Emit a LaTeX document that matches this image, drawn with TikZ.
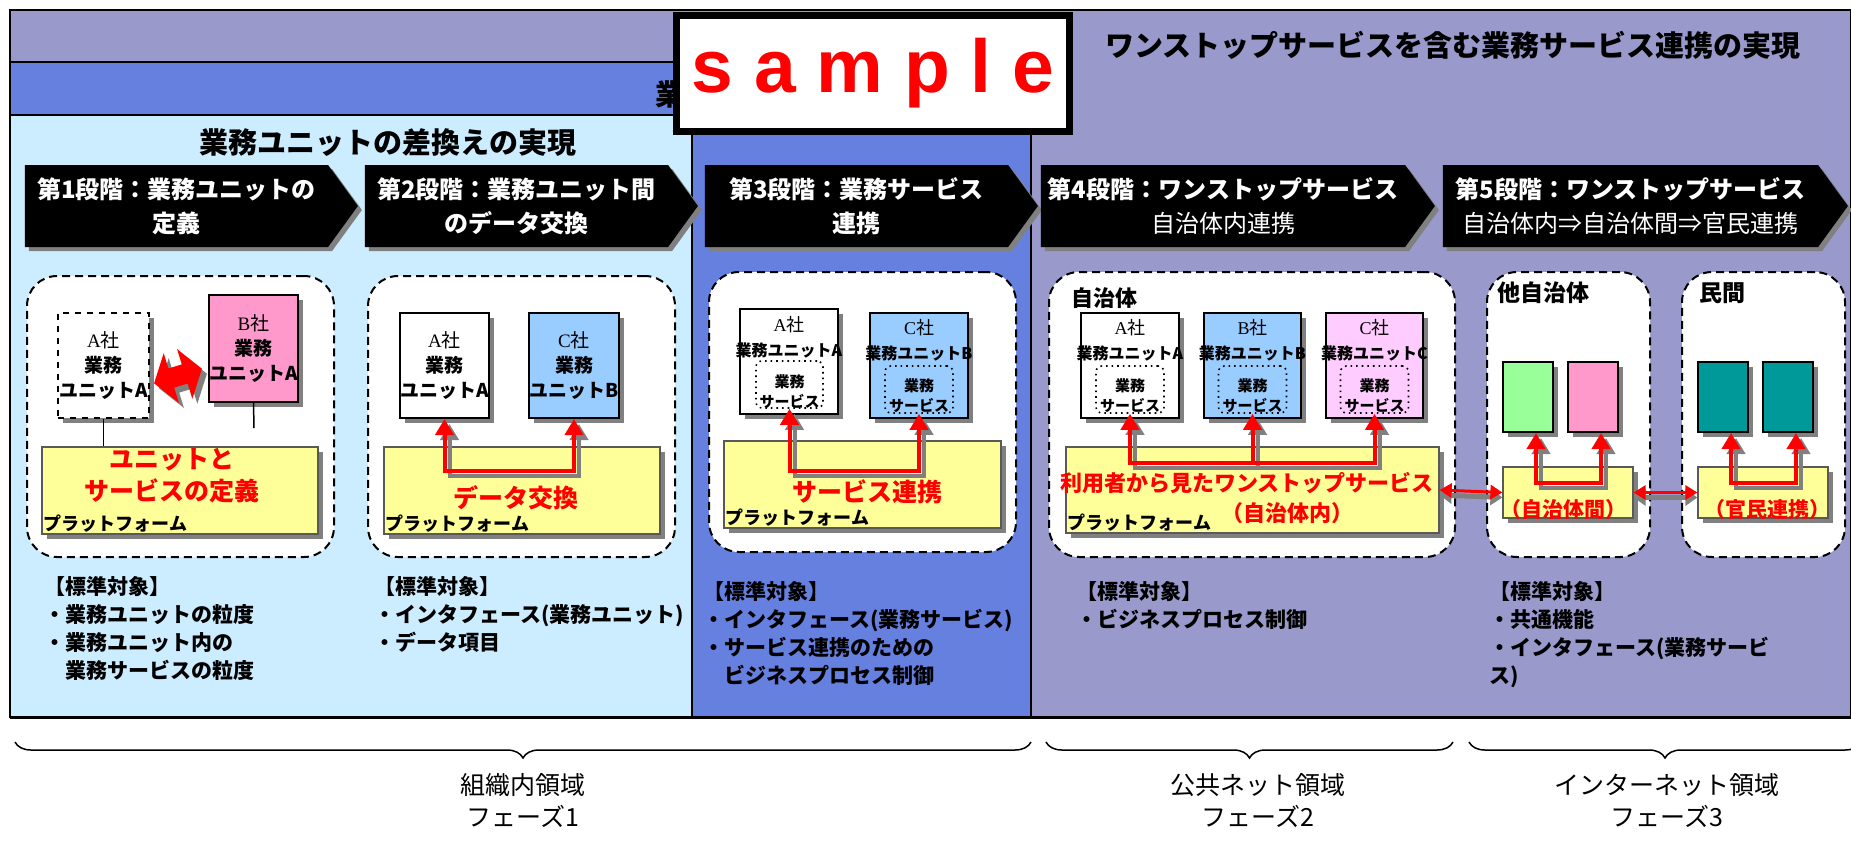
\documentclass[tikz,border=0pt]{standalone}
\usepackage{fontspec}
\setmainfont{Noto Sans CJK JP}
\newfontfamily\latinserif{Liberation Serif}
\newfontfamily\latinsans{Liberation Sans}
\usepackage{xcolor}
\usepackage{tikz}
\usetikzlibrary{shapes.symbols,shadows,arrows.meta,decorations.pathreplacing}
\definecolor{violet1}{HTML}{9999CC}
\definecolor{bleu1}{HTML}{6680E0}
\definecolor{ciel}{HTML}{CCECFF}
\definecolor{jaune}{HTML}{FFFF99}
\definecolor{rose}{HTML}{FF99CC}
\definecolor{bleuclair}{HTML}{99CCFF}
\definecolor{roseclair}{HTML}{FFCCFF}
\definecolor{vert}{HTML}{99FF99}
\definecolor{sarcelle}{HTML}{009999}
\newcommand{\corps}[2]{\fontsize{#1}{#2}\selectfont}
\newcommand{\societe}[1]{{\mdseries\latinserif #1}{\mdseries 社}}

\begin{document}
\begin{tikzpicture}[x=0.5pt,y=-0.5pt]
% Dimensions
\def\px{0.5pt}
% Styles
\tikzstyle{ombrage}=[drop shadow={shadow xshift=2.5pt,shadow yshift=-2.5pt,fill=gray,opacity=1}]
\tikzstyle{fond}=[draw=black,line width=0.75pt]
\tikzstyle{titre}=[font=\corps{14.5pt}{17pt}\bfseries]
\tikzstyle{etape}=[signal,signal to=east,signal from=nowhere,signal pointer angle=108,fill=black,text=white,font=\corps{12pt}{17pt}\bfseries,align=center,inner sep=0pt,minimum height=82*\px,drop shadow={shadow xshift=2pt,shadow yshift=-2pt,fill=gray,opacity=1}]
\tikzstyle{cadre}=[draw,rounded corners=15pt,dash pattern=on 4pt off 2.5pt,line width=1pt,fill=white]
\tikzstyle{unite}=[draw,line width=1pt,align=center,inner sep=0pt,font=\corps{9.5pt}{12.5pt}\bfseries,ombrage]
\tikzstyle{service}=[draw,dotted,rounded corners=3pt,line width=0.8pt,inner sep=0pt]
\tikzstyle{plateforme}=[draw=gray!70!black,line width=0.6pt,fill=jaune,ombrage]
\tikzstyle{soc}=[font=\corps{9pt}{11pt},inner sep=0pt]
\tikzstyle{nomu}=[font=\corps{8pt}{10pt}\bfseries,inner sep=0pt]
\tikzstyle{petit}=[font=\corps{7.5pt}{10pt}\bfseries,align=center,inner sep=0pt]
\tikzstyle{zone}=[font=\corps{11pt}{13pt}\bfseries,inner sep=0pt,anchor=west]
\tikzstyle{rouge}=[text=red,font=\corps{12.5pt}{16pt}\bfseries,align=center,inner sep=0pt]
\tikzstyle{etiq}=[font=\corps{9pt}{11pt}\bfseries,inner sep=1pt]
\tikzstyle{trait}=[line width=0.75pt]
\tikzstyle{liaison}=[red,line width=2pt,>={Triangle[length=8pt,width=9pt]}]
\tikzstyle{ombre}=[gray,line width=2pt,>={Triangle[length=8pt,width=9pt]},transform canvas={xshift=2.5pt,yshift=-2.5pt}]
\tikzstyle{lien}=[red,line width=1.5pt,>={Triangle[length=6pt,width=7pt]}]
\tikzstyle{lienombre}=[gray,line width=2.5pt,>={Triangle[length=6pt,width=8pt]},transform canvas={yshift=-2.5pt}]
\tikzstyle{liste}=[font=\corps{10.5pt}{14pt}\bfseries,align=left,inner sep=0pt,anchor=north west]
\tikzstyle{accolade}=[decorate,decoration={brace,amplitude=8pt},line width=0.75pt]
\tikzstyle{phase}=[font=\corps{12.5pt}{16pt},align=center]
\useasboundingbox (0,0) rectangle (1851,863);
% Fonds
\draw[fond,fill=violet1] (10,10) rectangle (1851,717);
\draw[fond,fill=bleu1] (10,62) rectangle (1031,115);
\draw[fond,fill=bleu1] (692,115) rectangle (1031,717);
\draw[fond,fill=ciel] (10,115) rectangle (692,717);
\draw[line width=1.5pt] (10,717) -- (1851,717);
% Titres
\node[titre,anchor=west] (B0) at (648,94) {業};
\node[draw=black,line width=3.5pt,fill=white,minimum width=393*\px,minimum height=116*\px,inner sep=0pt,text=red,font=\latinsans\bfseries\corps{37.5pt}{40pt}] (S) at (873,73.5) {\raisebox{-5pt}{s a m p l e}};
\node[titre] (T1) at (388,143) {業務ユニットの差換えの実現};
\node[titre] (T2) at (1453,45) {ワンストップサービスを含む業務サービス連携の実現};
% Etapes
\node[etape,minimum width=333*\px] (E1) at (176.5,206) {第1段階：業務ユニットの\\定義};
\node[etape,minimum width=333*\px] (E2) at (516.5,206) {第2段階：業務ユニット間\\のデータ交換};
\node[etape,minimum width=333*\px] (E3) at (856.5,206) {第3段階：業務サービス\\連携};
\node[etape,minimum width=394*\px] (E4) at (1223,206) {第4段階：ワンストップサービス\\{\mdseries 自治体内連携}};
\node[etape,minimum width=405*\px] (E5) at (1630.5,206) {第5段階：ワンストップサービス\\{\mdseries 自治体内⇒自治体間⇒官民連携}};
% Cadres
\node[cadre,minimum width=307*\px,minimum height=281*\px] (P1) at (180.5,416.5) {};
\node[cadre,minimum width=307*\px,minimum height=281*\px] (P2) at (521.5,416.5) {};
\node[cadre,minimum width=307*\px,minimum height=280*\px] (P3) at (862.5,412) {};
\node[cadre,minimum width=406*\px,minimum height=285*\px] (P4) at (1252,414.5) {};
\node[cadre,minimum width=163*\px,minimum height=285*\px] (P5a) at (1568.5,414.5) {};
\node[cadre,minimum width=163*\px,minimum height=285*\px] (P5b) at (1763.5,414.5) {};
% Etape 1
\node[unite,dashed,fill=white,minimum width=91*\px,minimum height=105*\px] (A1) at (103.5,365.5) {\societe{A}\\業務\\ユニットA};
\node[unite,fill=rose,minimum width=89*\px,minimum height=107*\px] (B1) at (253.5,348.5) {\societe{B}\\業務\\ユニットA};
\node[plateforme,minimum width=276*\px,minimum height=87*\px] (PF1) at (180,490.5) {};
\coordinate (b1) at (254,428);
\draw[trait] (A1.south) -- (A1.south |- PF1.north);
\draw[trait] (B1.south) -- (b1);
\foreach \c/\d in {gray/5,red/0}
  \fill[fill=\c,shift={(178+\d,376+\d)},rotate=17] (-25,0) -- (-7,-26) -- (-7,-10) -- (7,-10) -- (7,-26) -- (25,0) -- (7,26) -- (7,10) -- (-7,10) -- (-7,26) -- cycle;
\node[rouge] (R1) at (172,476) {ユニットと\\サービスの定義};
\node[etiq,anchor=south west] (L1) at (PF1.south west) {プラットフォーム};
% Etape 2
\node[unite,fill=white,minimum width=89*\px,minimum height=105*\px] (A2) at (444.5,365.5) {\societe{A}\\業務\\ユニットA};
\node[unite,fill=bleuclair,minimum width=88*\px,minimum height=105*\px] (C2) at (574,365.5) {\societe{C}\\業務\\ユニットB};
\node[plateforme,minimum width=276*\px,minimum height=87*\px] (PF2) at (522,490.5) {};
\coordinate (J2) at (510,471);
\draw[ombre,<->] (A2.south) |- (J2) -| (C2.south);
\draw[liaison,<->] (A2.south) |- (J2) -| (C2.south);
\node[rouge] (R2) at (516,498) {データ交換};
\node[etiq,anchor=south west] (L2) at (PF2.south west) {プラットフォーム};
% Etape 3
\node[unite,fill=white,minimum width=98*\px,minimum height=105*\px] (A3) at (789,361.5) {};
\node[soc] (A3n) at (789,325) {\societe{A}};
\node[nomu] (A3u) at (789,350) {業務ユニットA};
\node[service,minimum width=67*\px,minimum height=47*\px] (A3s) at (789.5,384.5) {};
\node[petit] (A3v) at (789.5,392) {業務\\サービス};
\node[unite,fill=bleuclair,minimum width=98*\px,minimum height=105*\px] (C3) at (919,365.5) {};
\node[soc] (C3n) at (919,328) {\societe{C}};
\node[nomu] (C3u) at (919,353) {業務ユニットB};
\node[service,minimum width=68*\px,minimum height=47*\px] (C3s) at (919,389.5) {};
\node[petit] (C3v) at (919,396) {業務\\サービス};
\node[plateforme,minimum width=277*\px,minimum height=87*\px] (PF3) at (862.5,484.5) {};
\coordinate (J3) at (850,471);
\draw[ombre,<->] (A3s.south) |- (J3) -| (C3s.south);
\draw[liaison,<->] (A3s.south) |- (J3) -| (C3s.south);
\node[rouge] (R3) at (867,492) {サービス連携};
\node[etiq,anchor=south west] (L3) at (PF3.south west) {プラットフォーム};
% Etape 4
\node[zone] (N4) at (1071,298) {自治体};
\node[unite,fill=white,minimum width=98*\px,minimum height=105*\px] (A4) at (1130,365.5) {};
\node[soc] (A4n) at (1130,328) {\societe{A}};
\node[nomu] (A4u) at (1130,353) {業務ユニットA};
\node[service,minimum width=68*\px,minimum height=47*\px] (A4s) at (1130,389.5) {};
\node[petit] (A4v) at (1130,396) {業務\\サービス};
\node[unite,fill=bleuclair,minimum width=97*\px,minimum height=105*\px] (B4) at (1252.5,365.5) {};
\node[soc] (B4n) at (1252.5,328) {\societe{B}};
\node[nomu] (B4u) at (1252.5,353) {業務ユニットB};
\node[service,minimum width=68*\px,minimum height=47*\px] (B4s) at (1252.5,389.5) {};
\node[petit] (B4v) at (1252.5,396) {業務\\サービス};
\node[unite,fill=roseclair,minimum width=97*\px,minimum height=105*\px] (C4) at (1374.5,365.5) {};
\node[soc] (C4n) at (1374.5,328) {\societe{C}};
\node[nomu] (C4u) at (1374.5,353) {業務ユニットC};
\node[service,minimum width=68*\px,minimum height=47*\px] (C4s) at (1374.5,389.5) {};
\node[petit] (C4v) at (1374.5,396) {業務\\サービス};
\node[plateforme,minimum width=373*\px,minimum height=86*\px] (PF4) at (1252.5,490) {};
\coordinate (J4) at (B4s.south |- 0,463);
\draw[ombre,<->] (A4s.south) |- (J4) -| (C4s.south);
\draw[ombre,->] (J4) -- (B4s.south);
\draw[liaison,<->] (A4s.south) |- (J4) -| (C4s.south);
\draw[liaison,->] (J4) -- (B4s.south);
\node[rouge,font=\corps{11pt}{14pt}\bfseries] (R4a) at (1247,483) {利用者から見たワンストップサービス};
\node[rouge,font=\corps{11pt}{14pt}\bfseries] (R4b) at (1287,513) {（自治体内）};
\node[etiq,anchor=south west] (L4) at (PF4.south west) {プラットフォーム};
% Etape 5
\node[zone,font=\corps{11.5pt}{13pt}\bfseries] (N5a) at (1497,293) {他自治体};
\node[unite,fill=vert,minimum width=50*\px,minimum height=70*\px] (G5) at (1528,397) {};
\node[unite,fill=rose,minimum width=50*\px,minimum height=70*\px] (K5) at (1593,397) {};
\node[plateforme,minimum width=130*\px,minimum height=51*\px] (PF5a) at (1568,492.5) {};
\coordinate (J5a) at (1560,483);
\draw[ombre,<->] ([xshift=4pt]G5.south) |- (J5a) -| ([xshift=4pt]K5.south);
\draw[liaison,<->] ([xshift=4pt]G5.south) |- (J5a) -| ([xshift=4pt]K5.south);
\node[rouge,font=\corps{10.5pt}{13pt}\bfseries] (R5a) at (1563,510) {（自治体間）};
\node[zone,font=\corps{11.5pt}{13pt}\bfseries] (N5b) at (1699,293) {民間};
\node[unite,fill=sarcelle,minimum width=50*\px,minimum height=70*\px] (T5a) at (1723,397) {};
\node[unite,fill=sarcelle,minimum width=50*\px,minimum height=70*\px] (T5b) at (1788,397) {};
\node[plateforme,minimum width=130*\px,minimum height=51*\px] (PF5b) at (1763,492.5) {};
\coordinate (J5b) at (1755,483);
\draw[ombre,<->] ([xshift=4pt]T5a.south) |- (J5b) -| ([xshift=4pt]T5b.south);
\draw[liaison,<->] ([xshift=4pt]T5a.south) |- (J5b) -| ([xshift=4pt]T5b.south);
\node[rouge,font=\corps{10.5pt}{13pt}\bfseries] (R5b) at (1767,510) {（官民連携）};
% Liens entre plateformes
\draw[lienombre,<->] (PF4.east) -- (PF5a.west);
\draw[lien,<->] (PF4.east) -- (PF5a.west);
\draw[lienombre,<->] (PF5a.east) -- (PF5b.west);
\draw[lien,<->] (PF5a.east) -- (PF5b.west);
% Standards
\node[liste] (S1) at (44,576) {【標準対象】\\・業務ユニットの粒度\\・業務ユニット内の\\　業務サービスの粒度};
\node[liste] (S2) at (374,576) {【標準対象】\\・インタフェース(業務ユニット)\\・データ項目};
\node[liste] (S3) at (703,581) {【標準対象】\\・インタフェース(業務サービス)\\・サービス連携のための\\　ビジネスプロセス制御};
\node[liste] (S4) at (1076,581) {【標準対象】\\・ビジネスプロセス制御};
\node[liste] (S5) at (1489,581) {【標準対象】\\・共通機能\\・インタフェース(業務サービ\\ス)};
% Accolades
\draw[accolade] (1031,742) -- (15,742);
\draw[accolade] (1453,742) -- (1046,742);
\draw[accolade] (1861,742) -- (1469,742);
\node[phase] (F1) at (523,801) {組織内領域\\フェーズ1};
\node[phase] (F2) at (1258,801) {公共ネット領域\\フェーズ2};
\node[phase] (F3) at (1667,801) {インターネット領域\\フェーズ3};
\end{tikzpicture}
\end{document}
